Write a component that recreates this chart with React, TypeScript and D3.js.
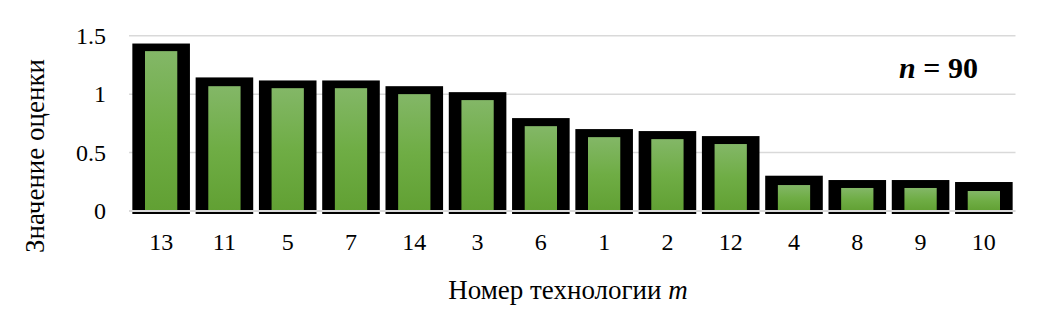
import React from "react";
import * as d3 from "d3";

const categories = ["13", "11", "5", "7", "14", "3", "6", "1", "2", "12", "4", "8", "9", "10"];
const blackValues = [1.433, 1.143, 1.117, 1.117, 1.068, 1.017, 0.795, 0.701, 0.684, 0.641, 0.302, 0.265, 0.265, 0.248];
const greenValues = [1.368, 1.068, 1.051, 1.051, 1.0, 0.949, 0.726, 0.632, 0.615, 0.573, 0.222, 0.197, 0.197, 0.171];
const yTicks = [0, 0.5, 1, 1.5];
const yTickLabels = ["0", "0.5", "1", "1.5"];

const W = 1043;
const H = 320;
const serif = '"Liberation Serif", "DejaVu Serif", serif';

export default function App() {
  const x = d3
    .scaleBand<string>()
    .domain(categories)
    .range([129.5, 1015.5])
    .paddingInner(0.09)
    .paddingOuter(0.045);
  const y = d3.scaleLinear().domain([0, 1.5]).range([211, 35.7]);
  const step = x.step();
  const gw = step * 0.51;
  const ts = { fontFamily: serif };

  return (
    <svg
      width={W}
      height={H}
      style={{ position: "absolute", left: 0, top: 0 }}
      xmlns="http://www.w3.org/2000/svg"
    >
      <defs>
        <linearGradient id="greenGrad" x1="0" y1="0" x2="0" y2="1">
          <stop offset="0%" stopColor="#83b767" />
          <stop offset="50%" stopColor="#6fad45" />
          <stop offset="100%" stopColor="#61a033" />
        </linearGradient>
      </defs>
      <rect x={0} y={0} width={W} height={H} fill="#ffffff" />
      {yTicks.map((t) =>
        t === 0 ? null : (
          <line
            key={"g" + t}
            x1={129}
            x2={1015.5}
            y1={y(t)}
            y2={y(t)}
            stroke="#d9d9d9"
            strokeWidth={1.5}
          />
        )
      )}
      {categories.map((c, i) => (
        <rect
          key={"b" + c}
          x={x(c)!}
          y={y(blackValues[i])}
          width={x.bandwidth()}
          height={y(0) - y(blackValues[i]) + 3}
          fill="#000000"
        />
      ))}
      {categories.map((c, i) => (
        <rect
          key={"gr" + c}
          x={x(c)! + x.bandwidth() / 2 - gw / 2}
          y={y(greenValues[i])}
          width={gw}
          height={y(0) - y(greenValues[i])}
          fill="url(#greenGrad)"
        />
      ))}
      <line x1={129} x2={1015.5} y1={y(0)} y2={y(0)} stroke="#d9d9d9" strokeWidth={2} />
      {yTicks.map((t, i) => (
        <text
          key={"yl" + t}
          x={106}
          y={y(t) + 8}
          textAnchor="end"
          style={ts}
          fontSize={24}
          fill="#000"
        >
          {yTickLabels[i]}
        </text>
      ))}
      {categories.map((c) => (
        <text
          key={"xl" + c}
          x={x(c)! + x.bandwidth() / 2}
          y={250}
          textAnchor="middle"
          style={ts}
          fontSize={24}
          fill="#000"
        >
          {c}
        </text>
      ))}
      <text
        transform={`translate(44, 156) rotate(-90)`}
        textAnchor="middle"
        style={ts}
        fontSize={27}
        fill="#000"
      >
        Значение оценки
      </text>
      <text x={568} y={299} textAnchor="middle" style={ts} fontSize={27} fill="#000">
        Номер технологии <tspan fontStyle="italic">m</tspan>
      </text>
      <text x={938.5} y={78} textAnchor="middle" style={ts} fontSize={30} fontWeight="bold" fill="#000">
        <tspan fontStyle="italic">n</tspan> = 90
      </text>
    </svg>
  );
}
